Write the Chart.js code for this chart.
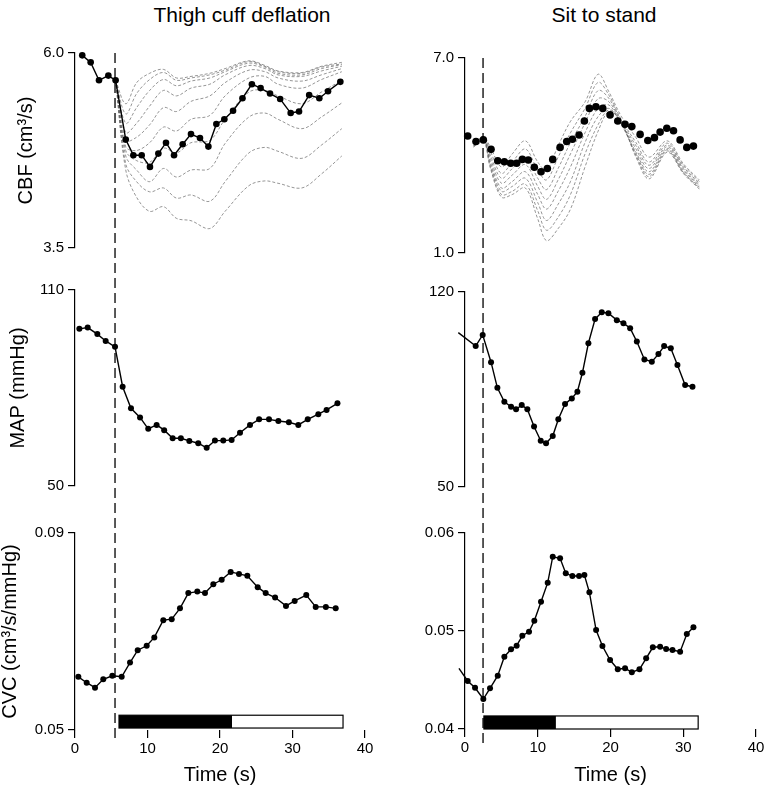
<!DOCTYPE html>
<html>
<head>
<meta charset="utf-8">
<script src="https://cdn.jsdelivr.net/npm/chart.js@4.4.1/dist/chart.umd.min.js"></script>
<style>
  body { margin: 0; background: #fff; }
  #wrap { position: relative; width: 767px; height: 787px; overflow: hidden; font-family: "Liberation Sans", Arial, sans-serif; }
  canvas { position: absolute; }
  .colTitle { position: absolute; top: 4px; font-size: 21px; line-height: 21px; color: #000; white-space: nowrap; transform: translateX(-50%); }
</style>
</head>
<body>
<div id="wrap">
  <div class="colTitle" style="left:242px">Thigh cuff deflation</div>
  <div class="colTitle" style="left:604px">Sit to stand</div>
  <canvas id="tl" width="380" height="240" style="left:0;top:30px"></canvas>
  <canvas id="ml" width="380" height="230" style="left:0;top:270px"></canvas>
  <canvas id="bl" width="380" height="287" style="left:0;top:500px"></canvas>
  <canvas id="tr" width="387" height="240" style="left:380px;top:30px"></canvas>
  <canvas id="mr" width="387" height="230" style="left:380px;top:270px"></canvas>
  <canvas id="br" width="387" height="287" style="left:380px;top:500px"></canvas>
</div>
<script>
// ---- thigh cuff deflation (left column) ----
let cuffEvent = 5.52;
let cuffPhases = [6.07, 21.66, 36.97];   // black phase start, switch, white phase end

let cbfTimeL = [1.0, 2.16, 3.31, 4.6, 5.6, 7.0, 8.05, 9.2, 10.34, 11.5, 12.55, 13.66, 14.85, 16.0, 17.24, 18.4, 19.5, 20.6, 21.8, 23.1, 24.4, 25.6, 26.9, 28.3, 29.75, 30.9, 32.3, 33.7, 34.9, 36.6];
let cbfL = [5.97, 5.88, 5.65, 5.71, 5.65, 4.89, 4.69, 4.69, 4.54, 4.71, 4.85, 4.69, 4.83, 4.96, 4.91, 4.80, 5.09, 5.15, 5.26, 5.42, 5.60, 5.55, 5.48, 5.41, 5.23, 5.25, 5.46, 5.42, 5.51, 5.63];

let fanTimeL = [5.6, 7, 8.5, 10.3, 12.2, 14, 16, 18.6, 20.7, 24, 26.2, 28, 31.3, 34, 36.8];
let fanL = [
  [5.65, 5.35, 5.62, 5.74, 5.79, 5.68, 5.70, 5.74, 5.80, 5.90, 5.84, 5.77, 5.75, 5.83, 5.88],
  [5.65, 5.22, 5.48, 5.66, 5.75, 5.65, 5.68, 5.72, 5.78, 5.89, 5.83, 5.76, 5.74, 5.82, 5.86],
  [5.65, 5.10, 5.30, 5.52, 5.66, 5.58, 5.64, 5.68, 5.76, 5.87, 5.82, 5.74, 5.72, 5.80, 5.85],
  [5.65, 4.98, 5.10, 5.32, 5.52, 5.45, 5.55, 5.60, 5.72, 5.84, 5.80, 5.72, 5.70, 5.77, 5.83],
  [5.65, 4.88, 4.92, 5.08, 5.30, 5.25, 5.38, 5.45, 5.62, 5.78, 5.76, 5.68, 5.64, 5.72, 5.80],
  [5.65, 4.80, 4.75, 4.85, 5.05, 5.00, 5.15, 5.20, 5.45, 5.68, 5.70, 5.60, 5.55, 5.66, 5.76],
  [5.65, 4.75, 4.62, 4.60, 4.78, 4.72, 4.85, 4.88, 5.15, 5.50, 5.52, 5.45, 5.35, 5.50, 5.65],
  [5.65, 4.68, 4.50, 4.35, 4.52, 4.41, 4.50, 4.52, 4.84, 5.18, 5.23, 5.15, 5.03, 5.18, 5.36],
  [5.65, 4.58, 4.35, 4.22, 4.27, 4.14, 4.18, 4.10, 4.35, 4.72, 4.79, 4.74, 4.65, 4.82, 5.03],
  [5.65, 4.50, 4.15, 3.97, 4.03, 3.88, 3.85, 3.75, 3.97, 4.30, 4.36, 4.33, 4.27, 4.45, 4.68]
];

let mapTimeL = [0.6, 1.75, 3.08, 4.23, 5.52, 6.57, 7.72, 8.97, 10.1, 11.26, 12.3, 13.47, 14.6, 15.77, 17.0, 18.16, 19.3, 20.45, 21.6, 22.76, 24.14, 25.4, 26.76, 28.05, 29.5, 30.8, 32.1, 33.56, 34.7, 36.2];
let mapL = [98.1, 98.5, 96.5, 94.4, 92.6, 80.4, 73.8, 71.0, 67.5, 68.7, 67.1, 64.6, 64.6, 63.8, 63.1, 61.7, 63.9, 63.9, 64.1, 66.3, 68.7, 70.4, 70.4, 69.9, 69.5, 68.7, 70.4, 72.0, 73.3, 75.3];

let cvcTimeL = [0.46, 1.61, 2.76, 3.9, 5.15, 6.44, 7.59, 8.65, 9.89, 10.94, 12.18, 13.34, 14.48, 15.63, 16.87, 17.93, 19.08, 20.23, 21.47, 22.62, 23.77, 25.2, 26.3, 27.6, 29.1, 30.3, 31.9, 33.2, 34.6, 35.96];
let cvcL = [0.0608, 0.0596, 0.0586, 0.0603, 0.0610, 0.0608, 0.0637, 0.0662, 0.0671, 0.0688, 0.0723, 0.0725, 0.0747, 0.0778, 0.0781, 0.0778, 0.0796, 0.0805, 0.0821, 0.0817, 0.0813, 0.0790, 0.0778, 0.0769, 0.0752, 0.0762, 0.0774, 0.0750, 0.0750, 0.0747];

// ---- sit to stand (right column) ----
let standEvent = 2.48;
let standPhases = [2.6, 12.5, 32.05];

let cbfTimeR = [0.37, 1.51, 2.52, 3.58, 4.5, 5.41, 6.28, 7.1, 7.88, 8.7, 9.53, 10.45, 11.32, 12.06, 13.07, 13.98, 14.76, 15.68, 16.41, 17.1, 18.0, 18.94, 19.94, 21.0, 22.0, 22.93, 24.07, 25.13, 26.04, 26.82, 27.74, 28.66, 29.57, 30.49, 31.4];
let cbfR = [4.6, 4.43, 4.48, 4.19, 3.84, 3.81, 3.76, 3.76, 3.88, 3.86, 3.64, 3.5, 3.6, 3.88, 4.25, 4.43, 4.5, 4.63, 5.06, 5.45, 5.5, 5.45, 5.25, 5.06, 4.96, 4.89, 4.65, 4.46, 4.55, 4.72, 4.84, 4.76, 4.48, 4.25, 4.29];

let fanTimeR = [1.2, 2.5, 3.5, 5, 6.5, 8.3, 10, 11.2, 12.8, 14.5, 16.5, 18.3, 19.8, 21.5, 23.5, 25.3, 27.8, 30, 32.2];
let fanR = [
  [4.35, 4.58, 4.25, 3.65, 4.05, 4.45, 3.80, 3.55, 4.30, 5.05, 5.65, 6.50, 5.95, 5.20, 4.55, 3.95, 4.45, 3.75, 3.25],
  [4.33, 4.57, 4.12, 3.45, 3.80, 4.20, 3.55, 3.25, 3.95, 4.70, 5.45, 6.25, 5.85, 5.10, 4.40, 3.80, 4.38, 3.70, 3.20],
  [4.31, 4.56, 4.00, 3.30, 3.60, 3.95, 3.30, 2.95, 3.60, 4.40, 5.20, 6.00, 5.75, 5.05, 4.30, 3.70, 4.32, 3.65, 3.15],
  [4.30, 4.55, 3.90, 3.15, 3.40, 3.72, 3.05, 2.65, 3.25, 4.05, 5.00, 5.75, 5.65, 5.00, 4.20, 3.60, 4.27, 3.60, 3.10],
  [4.29, 4.54, 3.80, 3.00, 3.20, 3.50, 2.80, 2.35, 2.90, 3.65, 4.70, 5.45, 5.55, 4.95, 4.10, 3.50, 4.22, 3.55, 3.07],
  [4.28, 4.53, 3.72, 2.90, 3.05, 3.30, 2.55, 2.00, 2.50, 3.20, 4.40, 5.20, 5.45, 4.98, 4.05, 3.42, 4.18, 3.50, 3.03],
  [4.27, 4.52, 3.65, 2.80, 2.90, 3.12, 2.30, 1.70, 2.10, 2.80, 4.05, 4.95, 5.40, 5.00, 4.00, 3.35, 4.14, 3.48, 3.00],
  [4.26, 4.50, 3.60, 2.72, 2.80, 3.00, 2.05, 1.38, 1.75, 2.35, 3.65, 4.75, 5.35, 5.02, 3.95, 3.28, 4.10, 3.45, 2.97]
];

let mapTimeR = [-0.92, 1.47, 2.43, 3.58, 4.45, 5.41, 6.33, 7.02, 7.8, 8.57, 9.49, 10.41, 11.14, 12.06, 12.83, 13.75, 14.68, 15.45, 16.14, 16.96, 17.88, 18.8, 19.71, 20.87, 21.78, 22.7, 23.62, 24.66, 25.68, 26.59, 27.37, 28.29, 29.2, 30.26, 31.27];
let mapR = [105.4, 100.6, 104.6, 94.8, 85.6, 80.6, 78.8, 77.9, 79.4, 77.9, 71.7, 66.6, 65.7, 68.3, 74.3, 79.8, 81.8, 84.2, 91.0, 101.6, 110.3, 112.7, 112.4, 109.9, 108.8, 107.0, 102.2, 95.8, 95.0, 97.7, 100.6, 99.8, 93.8, 86.6, 86.0];

let cvcTimeR = [-0.83, 0.37, 1.38, 2.52, 3.44, 4.5, 5.41, 6.33, 7.1, 7.88, 8.8, 9.53, 10.45, 11.37, 12.06, 13.07, 13.85, 14.76, 15.68, 16.41, 17.1, 18.02, 18.89, 19.94, 21.0, 22.0, 22.93, 23.98, 24.9, 25.82, 26.82, 27.65, 28.52, 29.57, 30.49, 31.4];
let cvcR = [0.04619, 0.0449, 0.04421, 0.04306, 0.04415, 0.04544, 0.04738, 0.04813, 0.0485, 0.04952, 0.04993, 0.05105, 0.05299, 0.05493, 0.05758, 0.05742, 0.05589, 0.05561, 0.05561, 0.05571, 0.05395, 0.0501, 0.04847, 0.04704, 0.04609, 0.04619, 0.04579, 0.04609, 0.04721, 0.04834, 0.0484, 0.04816, 0.04806, 0.04789, 0.04969, 0.05038];

// axis ticks
let timeTicks = [0, 10, 20, 30, 40];
let cbfTicksL = [3.5, 6.0], mapTicksL = [50, 110], cvcTicksL = [0.05, 0.09];
let cbfTicksR = [1.0, 7.0], mapTicksR = [50, 120], cvcTicksR = [0.04, 0.05, 0.06];

Chart.defaults.font.family = '"Liberation Sans", Arial, sans-serif';
Chart.defaults.color = '#000';

function pts(xs, ys) { return xs.map((x, i) => ({x: x, y: ys[i]})); }

function trace(xs, ys, radius, line) {
  return {
    data: pts(xs, ys), showLine: line, borderColor: '#000', borderWidth: 1.4,
    pointBackgroundColor: '#000', pointBorderWidth: 0, clip: false,
    pointRadius: ctx => ctx.dataIndex === 0 && xs[0] < 0 ? 0 : radius
  };
}

function fan(xs, curves) {
  return curves.map(c => ({
    data: pts(xs, c), showLine: true, borderColor: 'rgba(100,100,100,0.85)', borderWidth: 0.8,
    borderDash: [3, 2], pointRadius: 0, tension: 0.35, clip: false
  }));
}

// dashed event line + phase bar, drawn through the chart scales
const eventPlugin = {
  id: 'eventLine',
  afterDatasetsDraw(chart, args, o) {
    const ctx = chart.ctx, xs = chart.scales.x, ys = chart.scales.y;
    const x = xs.getPixelForValue(o.t);
    const y0 = Math.max(o.from - o.top, 0), y1 = Math.min(o.to - o.top, chart.height);
    ctx.save();
    ctx.strokeStyle = '#000';
    ctx.lineWidth = 1.3;
    ctx.setLineDash([10, 5]);
    ctx.lineDashOffset = (o.top + y0 - o.from);
    ctx.beginPath(); ctx.moveTo(x, y0); ctx.lineTo(x, y1); ctx.stroke();
    ctx.setLineDash([]);
    if (o.phases) {
      const yt = ys.getPixelForValue(o.barY[1]), yb = ys.getPixelForValue(o.barY[0]);
      const a = xs.getPixelForValue(o.phases[0]), b = xs.getPixelForValue(o.phases[1]), c = xs.getPixelForValue(o.phases[2]);
      ctx.fillStyle = '#000';
      ctx.fillRect(a, yt, b - a, yb - yt);
      ctx.fillStyle = '#fff';
      ctx.fillRect(b, yt, c - b, yb - yt);
      ctx.lineWidth = 1.2;
      ctx.strokeRect(a, yt, c - a, yb - yt);
    }
    ctx.restore();
  }
};

function panel(id, p) {
  new Chart(document.getElementById(id), {
    type: 'scatter',
    data: {datasets: p.datasets},
    options: {
      responsive: false,
      animation: false,
      events: [],
      layout: {padding: {left: p.pl, top: p.pt, right: p.pr, bottom: p.pb}},
      plugins: {
        legend: {display: false},
        tooltip: {enabled: false},
        eventLine: p.event
      },
      scales: {
        x: {
          type: 'linear', min: 0, max: 40, display: p.xh > 0,
          afterFit: s => { s.height = p.xh; s.paddingLeft = 0; s.paddingRight = 0; },
          afterBuildTicks: s => { s.ticks = timeTicks.map(v => ({value: v})); },
          border: {display: false},
          grid: {display: true, drawOnChartArea: false, drawTicks: true, tickLength: 8, color: '#000', tickColor: '#000', tickWidth: 1.2, lineWidth: 1.2},
          ticks: {font: {size: 15}, padding: 2, maxRotation: 0},
          title: {display: true, text: 'Time (s)', font: {size: 20, lineHeight: 1}, padding: {top: 4, bottom: 2}}
        },
        y: {
          type: 'linear', min: p.ticks[0], max: p.ticks[p.ticks.length - 1],
          afterFit: s => { s.width = p.yw; s.paddingTop = 0; s.paddingBottom = 0; },
          afterBuildTicks: s => { s.ticks = p.ticks.map(v => ({value: v})); },
          border: {display: true, color: '#000', width: 1.2},
          grid: {display: true, drawOnChartArea: false, drawTicks: true, tickLength: 7, color: '#000', tickColor: '#000', tickWidth: 1.2, lineWidth: 1.2},
          ticks: {font: {size: 15}, padding: 4, callback: v => Number(v).toFixed(p.dec)},
          title: {display: !!p.title, text: p.title, font: {size: 20, lineHeight: 1}, padding: {top: 0, bottom: 0}}
        }
      }
    },
    plugins: [eventPlugin]
  });
}

const evL = {t: cuffEvent, from: 53, to: 742};
const evR = {t: standEvent, from: 58, to: 745};

panel('tl', {pl: 16, pt: 23, pr: 15, pb: 22, yw: 59, xh: 0, ticks: cbfTicksL, dec: 1, title: 'CBF (cm³/s)',
  event: Object.assign({top: 30}, evL),
  datasets: [trace(cbfTimeL, cbfL, 3.3, true)].concat(fan(fanTimeL, fanL))});
panel('ml', {pl: 8, pt: 20, pr: 15, pb: 14, yw: 67, xh: 0, ticks: mapTicksL, dec: 0, title: 'MAP (mmHg)',
  event: Object.assign({top: 270}, evL),
  datasets: [trace(mapTimeL, mapL, 3, true)]});
panel('bl', {pl: 0, pt: 33, pr: 15, pb: 0, yw: 75, xh: 57, ticks: cvcTicksL, dec: 2, title: 'CVC (cm³/s/mmHg)',
  event: Object.assign({top: 500, phases: cuffPhases, barY: [0.0504, 0.0530]}, evL),
  datasets: [trace(cvcTimeL, cvcL, 3, true)]});

panel('tr', {pl: 0, pt: 28, pr: 11, pb: 17, yw: 85, xh: 0, ticks: cbfTicksR, dec: 1, title: '',
  event: Object.assign({top: 30}, evR),
  datasets: [trace(cbfTimeR, cbfR, 3.8, false)].concat(fan(fanTimeR, fanR))});
panel('mr', {pl: 0, pt: 22, pr: 11, pb: 13, yw: 85, xh: 0, ticks: mapTicksR, dec: 0, title: '',
  event: Object.assign({top: 270}, evR),
  datasets: [trace(mapTimeR, mapR, 3, true)]});
panel('br', {pl: 0, pt: 33, pr: 11, pb: 0, yw: 85, xh: 58, ticks: cvcTicksR, dec: 2, title: '',
  event: Object.assign({top: 500, phases: standPhases, barY: [0.0400, 0.04133]}, evR),
  datasets: [trace(cvcTimeR, cvcR, 3, true)]});
</script>
</body>
</html>
